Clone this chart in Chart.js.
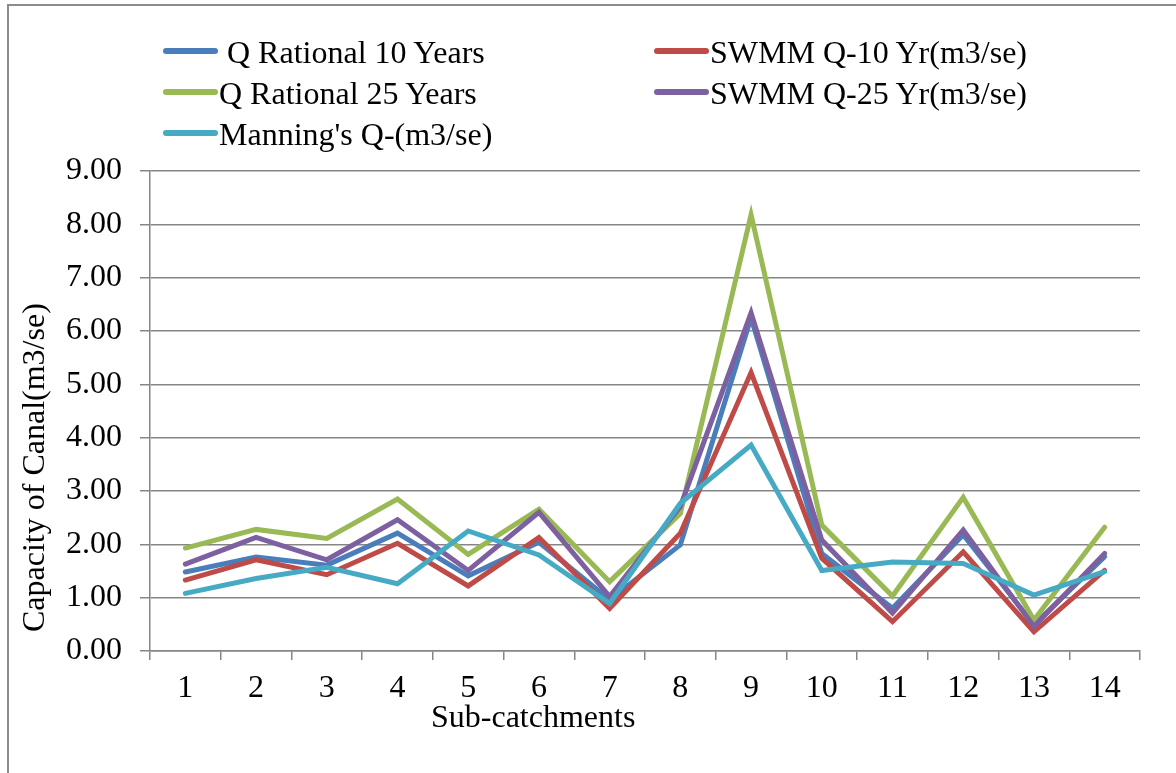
<!DOCTYPE html>
<html>
<head>
<meta charset="utf-8">
<script src="https://cdn.jsdelivr.net/npm/chart.js@4.4.1/dist/chart.umd.min.js"></script>
<style>
  html, body { margin: 0; padding: 0; background: #fff; }
  #wrap { position: relative; width: 1176px; height: 773px; overflow: hidden; font-family: "Liberation Serif", "Times New Roman", serif; }
  #frame { position: absolute; left: 7px; top: 4px; width: 1300px; height: 900px; border-left: 2px solid #8c8c8c; border-top: 2px solid #8c8c8c; }
  #chart { position: absolute; left: 0; top: 0; }
  .leg { position: absolute; font-family: "Liberation Serif", "Times New Roman", serif; font-size: 32px; line-height: 32px; color: #000; white-space: pre; }
  .mark { position: absolute; width: 55px; height: 6px; border-radius: 3px; }
  .title { position: absolute; font-family: "Liberation Serif", "Times New Roman", serif; font-size: 32px; line-height: 32px; color: #000; white-space: pre; }
  #ytitle { transform: rotate(-90deg); transform-origin: left top; }
</style>
</head>
<body>
<div id="wrap">
  <div id="frame"></div>
  <canvas id="chart" width="1176" height="773"></canvas>
  <div id="legend"></div>
  <div class="title" id="ytitle" style="left:17px; top:632px;">Capacity of Canal(m3/se)</div>
  <div class="title" id="xtitle" style="left:431px; top:700px;">Sub-catchments</div>
</div>
<script>
// Dữ liệu
const categories = ['1', '2', '3', '4', '5', '6', '7', '8', '9', '10', '11', '12', '13', '14'];
const qRational10 = [1.48, 1.76, 1.61, 2.21, 1.41, 2.04, 0.96, 1.99, 6.25, 1.83, 0.80, 2.18, 0.49, 1.77];
const swmm10 = [1.33, 1.71, 1.43, 2.02, 1.22, 2.13, 0.80, 2.21, 5.22, 1.74, 0.55, 1.86, 0.36, 1.51];
const qRational25 = [1.93, 2.28, 2.11, 2.85, 1.81, 2.66, 1.30, 2.58, 8.18, 2.36, 1.03, 2.88, 0.58, 2.32];
const swmm25 = [1.63, 2.13, 1.71, 2.46, 1.51, 2.60, 1.02, 2.71, 6.34, 2.08, 0.71, 2.27, 0.46, 1.83];
const manningQ = [1.08, 1.36, 1.57, 1.26, 2.25, 1.80, 0.89, 2.77, 3.86, 1.51, 1.67, 1.64, 1.05, 1.49];
const yMin = 0, yMax = 9, yStep = 1;

const FONT = '"Liberation Serif", "Times New Roman", serif';
const GRID = '#868686';

const series = [
    { label: ' Q Rational 10 Years', data: qRational10, color: '#4a7ebb', order: 4, col: 0, row: 0 },
    { label: 'SWMM Q-10 Yr(m3/se)', data: swmm10, color: '#be4b48', order: 3, col: 1, row: 0 },
    { label: 'Q Rational 25 Years', data: qRational25, color: '#98b954', order: 2, col: 0, row: 1 },
    { label: 'SWMM Q-25 Yr(m3/se)', data: swmm25, color: '#7d60a0', order: 1, col: 1, row: 1 },
    { label: "Manning's Q-(m3/se)", data: manningQ, color: '#46aac5', order: 0, col: 0, row: 2 }
];

// --- Chú thích (legend) dạng HTML, 2 cột ---
const legendEl = document.getElementById('legend');
const colX = [163, 654];
const rowY = [51, 92, 133];
legendEl.innerHTML = series.map(s => `
    <div class="mark" style="left:${colX[s.col]}px; top:${rowY[s.row] - 3}px; background:${s.color}"></div>
    <div class="leg" style="left:${colX[s.col] + 56}px; top:${rowY[s.row] - 15}px">${s.label}</div>`).join('');

// --- Biểu đồ ---
new Chart(document.getElementById('chart'), {
    type: 'line',
    data: {
        labels: categories,
        datasets: series.map(s => ({
            label: s.label,
            data: s.data,
            borderColor: s.color,
            backgroundColor: s.color,
            borderWidth: 5,
            borderCapStyle: 'round',
            pointRadius: 0,
            tension: 0,
            order: s.order
        }))
    },
    options: {
        responsive: false,
        animation: false,
        layout: { padding: { top: 171, right: 36, left: 0, bottom: 0 } },
        plugins: { legend: { display: false }, tooltip: { enabled: false } },
        scales: {
            x: {
                offset: true,
                grid: { offset: true, drawOnChartArea: false, color: GRID, lineWidth: 1.5, tickLength: 9 },
                border: { color: GRID, width: 1.5 },
                ticks: { color: '#000', font: { family: FONT, size: 32 }, padding: 9, maxRotation: 0, autoSkip: false },
                afterFit: (scale) => { scale.height = 122; }
            },
            y: {
                min: yMin, max: yMax,
                grid: { color: GRID, lineWidth: 1.5, tickLength: 10 },
                border: { color: GRID, width: 1.5 },
                ticks: { stepSize: yStep, color: '#000', font: { family: FONT, size: 32 }, padding: 18,
                         callback: (v) => v.toFixed(2) },
                afterFit: (scale) => { scale.width = 150; }
            }
        }
    }
});
</script>
</body>
</html>
